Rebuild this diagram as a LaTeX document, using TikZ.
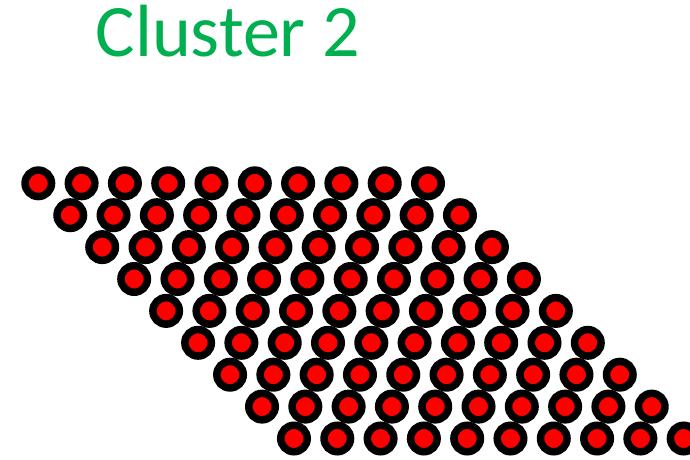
\documentclass[tikz,border=0pt]{standalone}
\usepackage{fontspec}
\setmainfont{Carlito}
\definecolor{offgreen}{RGB}{0,176,80}
\tikzset{
  dot/.style={circle, draw=black, fill=red, line width=7.5pt, minimum size=26.5pt, inner sep=0pt},
  title/.style={font=\fontsize{74}{80}\selectfont, text=offgreen, inner sep=0pt, anchor=base west}
}
\begin{document}
\begin{tikzpicture}[x=1pt,y=-1pt]
\useasboundingbox (0,0) rectangle (690,460);
\clip (0,0) rectangle (690,460);
\node[title] (t) at (95.5,56.5) {Cluster 2};
\foreach \r in {0,...,8}{
  \foreach \c in {0,...,9}{
    \node[dot] (d\r-\c) at ({38.3+31.96*\r+43.3*\c},{183.3+31.9*\r}) {};
  }
}
\end{tikzpicture}
\end{document}
